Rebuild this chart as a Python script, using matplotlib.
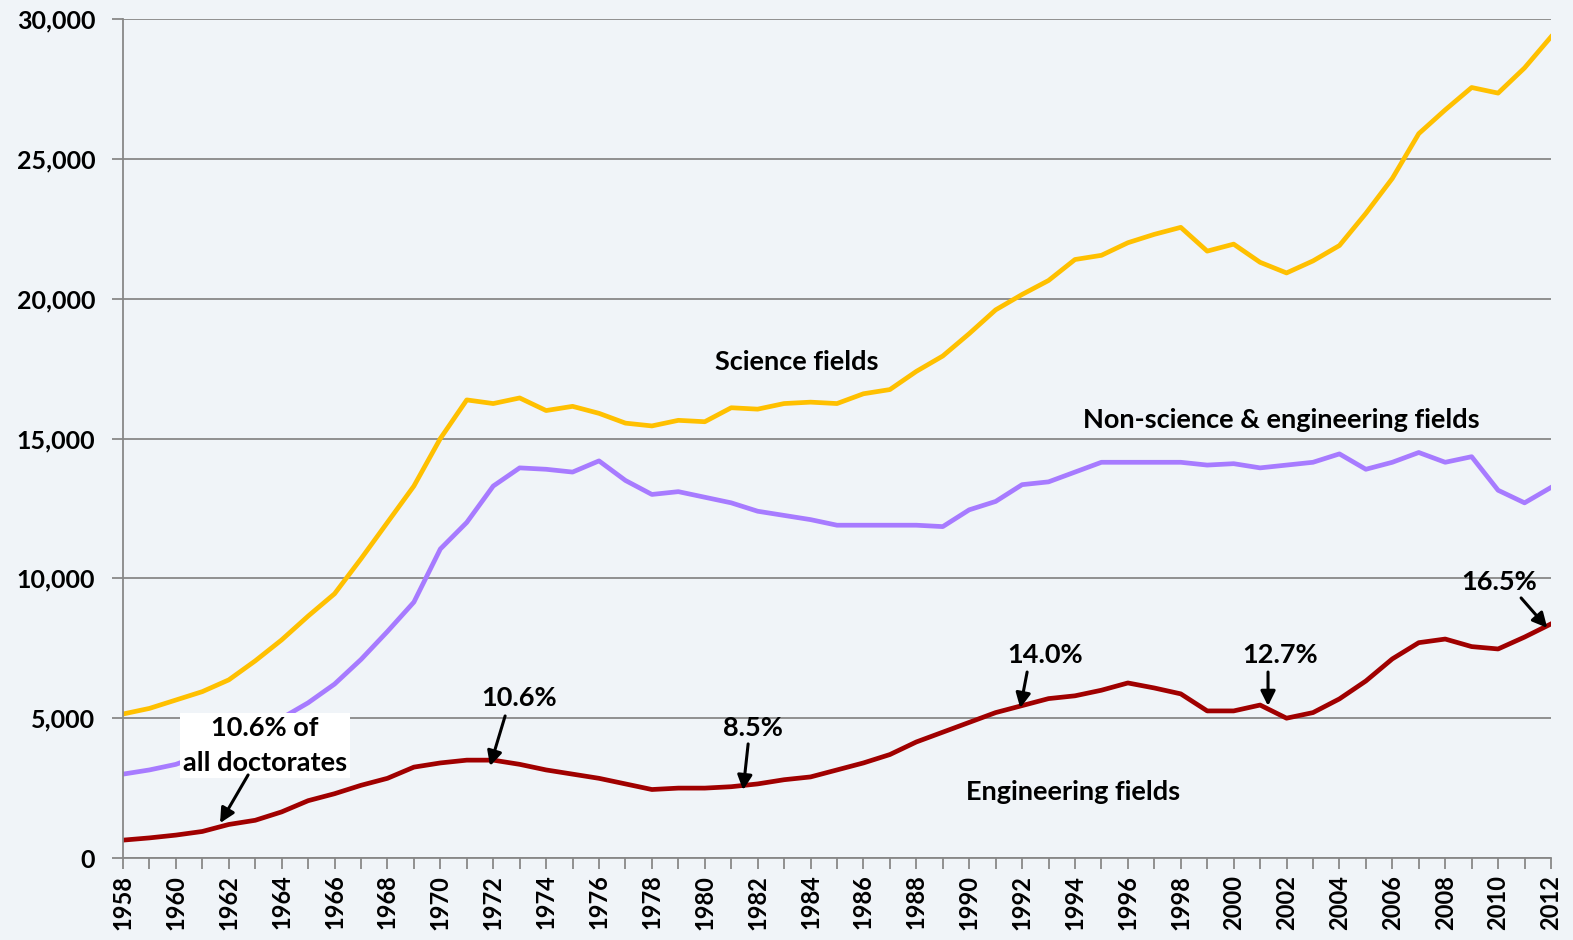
import matplotlib.pyplot as plt

plt.rcParams['font.family'] = ['Lato', 'DejaVu Sans']
plt.rcParams['font.weight'] = 'bold'

years = list(range(1958, 2013))

science = [5150, 5350, 5650, 5950, 6370, 7050, 7800, 8650, 9450, 10700,
           12000, 13300, 15000, 16380, 16250, 16450, 16000, 16150, 15900, 15550,
           15450, 15650, 15600, 16100, 16050, 16250, 16300, 16250, 16600, 16750,
           17400, 17950, 18750, 19600, 20150, 20650, 21400, 21550, 22000, 22300,
           22550, 21700, 21950, 21300, 20920, 21350, 21900, 23050, 24300, 25900,
           26750, 27550, 27350, 28250, 29360]

non_se = [3000, 3150, 3350, 3700, 4100, 4500, 5000, 5550, 6220, 7100,
          8100, 9150, 11050, 12000, 13300, 13950, 13900, 13800, 14200, 13500,
          13000, 13100, 12900, 12700, 12400, 12250, 12100, 11900, 11900, 11900,
          11900, 11850, 12450, 12750, 13350, 13450, 13800, 14150, 14150, 14150,
          14150, 14050, 14100, 13950, 14050, 14150, 14450, 13900, 14150, 14500,
          14150, 14350, 13150, 12700, 13250]

engineering = [640, 720, 820, 950, 1200, 1350, 1650, 2050, 2300, 2600,
               2850, 3250, 3400, 3500, 3500, 3350, 3150, 3000, 2850, 2650,
               2450, 2500, 2500, 2550, 2650, 2800, 2900, 3150, 3400, 3700,
               4150, 4500, 4850, 5200, 5450, 5700, 5800, 6000, 6260, 6080,
               5870, 5260, 5260, 5470, 5000, 5200, 5690, 6330, 7120, 7700,
               7830, 7560, 7475, 7900, 8370]

# (label, text x, text y, arrow start, arrow end)
callouts = [
    ("10.6%", 1972.98, 5720, (1972.45, 5080), (1971.88, 3290)),
    ("8.5%", 1981.83, 4650, (1981.64, 4080), (1981.45, 2430)),
    ("14.0%", 1992.87, 7260, (1992.19, 6650), (1991.93, 5365)),
    ("12.7%", 2001.76, 7260, (2001.3, 6650), (2001.3, 5440)),
    ("16.5%", 2010.04, 9870, (2010.87, 9300), (2011.86, 8230)),
]

bg = '#f0f4f8'
fig = plt.figure(figsize=(15.73, 9.40), dpi=100, facecolor=bg)
ax = fig.add_axes([0.0782, 0.0872, 0.9078, 0.8926])
ax.set_facecolor(bg)

ax.plot(years, science, color='#FFC000', lw=3.4, solid_joinstyle='round')
ax.plot(years, non_se, color='#A77BFF', lw=3.4, solid_joinstyle='round')
ax.plot(years, engineering, color='#A00000', lw=3.4, solid_joinstyle='round')

ax.set_xlim(1958, 2012)
ax.set_ylim(0, 30000)
ax.set_yticks(range(0, 30001, 5000))
ax.set_yticklabels([f"{v:,}" for v in range(0, 30001, 5000)], fontsize=18, fontweight='bold')
ax.set_xticks(range(1958, 2013, 2))
ax.set_xticklabels([str(y) for y in range(1958, 2013, 2)], rotation=90, fontsize=17, fontweight='bold')
ax.set_xticks(range(1958, 2013), minor=True)
ax.tick_params(axis='x', which='both', direction='out', length=8, width=1.3, color='#888888', pad=4)
ax.tick_params(axis='y', direction='out', length=8, width=1.3, color='#888888', pad=12)
ax.grid(axis='y', color='#888888', lw=1.3)
ax.set_axisbelow(True)
for s in ['top', 'right']:
    ax.spines[s].set_visible(False)
for s in ['left', 'bottom']:
    ax.spines[s].set_color('#888888')
    ax.spines[s].set_linewidth(1.3)

ax.text(1983.49, 17740, "Science fields", fontsize=19.5, fontweight='bold', ha='center', va='center')
ax.text(2001.8, 15665, "Non-science & engineering fields", fontsize=19.5, fontweight='bold', ha='center', va='center')
ax.text(1993.93, 2360, "Engineering fields", fontsize=19.5, fontweight='bold', ha='center', va='center')

ax.text(1963.37, 4030, "10.6% of\nall doctorates", fontsize=19.5, fontweight='bold', ha='center', va='center',
        linespacing=1.55, bbox=dict(boxstyle='square,pad=0.12', fc='white', ec='none'), zorder=5)
ax.annotate('', xy=(1961.67, 1250), xytext=(1962.73, 2970),
            arrowprops=dict(arrowstyle='-|>', lw=2.2, color='black', mutation_scale=22, shrinkA=0, shrinkB=0), zorder=6)

for label, tx, ty, start, end in callouts:
    ax.text(tx, ty, label, fontsize=19.5, fontweight='bold', ha='center', va='center', zorder=6)
    ax.annotate('', xy=end, xytext=start,
                arrowprops=dict(arrowstyle='-|>', lw=2.2, color='black', mutation_scale=22, shrinkA=0, shrinkB=0),
                zorder=6)

plt.savefig('out.png', dpi=100, facecolor=bg)
